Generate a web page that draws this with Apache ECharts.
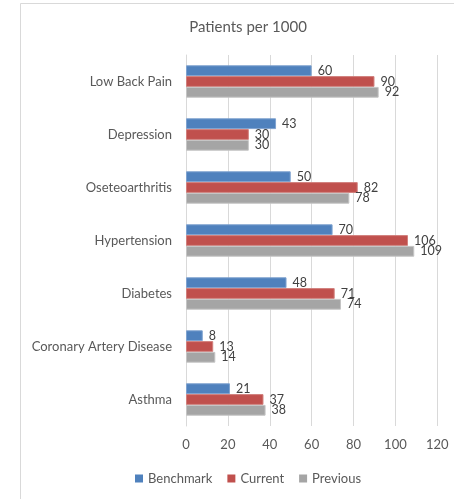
<!DOCTYPE html>
<html>
<head>
<meta charset="utf-8">
<script src="https://cdn.jsdelivr.net/npm/echarts@6/dist/echarts.min.js"></script>
<style>
  html, body { margin: 0; padding: 0; background: #fff; }
  #chart { width: 454px; height: 499px; }
</style>
</head>
<body>
<div id="chart"></div>
<script>
// Conditions, listed top to bottom
const categories = ['Low Back Pain', 'Depression', 'Oseteoarthritis', 'Hypertension', 'Diabetes', 'Coronary Artery Disease', 'Asthma'];
const benchmark = [60, 43, 50, 70, 48, 8, 21];
const current = [90, 30, 82, 106, 71, 13, 37];
const previous = [92, 30, 78, 109, 74, 14, 38];
const xTicks = [0, 20, 40, 60, 80, 100, 120];

const FONT = 'Lato, "Noto Sans", sans-serif';
const chart = echarts.init(document.getElementById('chart'), null, { renderer: 'canvas' });

function barSeries(name, values, color, border) {
  return {
    name: name,
    type: 'bar',
    data: values,
    barWidth: 10.8,
    barGap: '0%',
    itemStyle: { color: color, borderColor: border, borderWidth: 1 },
    label: {
      show: true,
      position: 'right',
      distance: 6,
      color: '#404040',
      fontFamily: FONT,
      fontSize: 12.5
    }
  };
}

chart.setOption({
  animation: false,
  backgroundColor: '#fff',
  graphic: [{
    type: 'rect',
    shape: { x: 20.5, y: 3.5, width: 460, height: 520 },
    style: { fill: 'none', stroke: '#d9d9d9', lineWidth: 1 },
    z: -1
  }],
  title: {
    text: 'Patients per 1000',
    left: 243,
    textAlign: 'center',
    top: 15,
    textStyle: { color: '#595959', fontFamily: FONT, fontSize: 15, fontWeight: 'normal' }
  },
  legend: {
    data: ['Benchmark', 'Current', 'Previous'],
    top: 467,
    left: 130,
    icon: 'rect',
    itemWidth: 8,
    itemHeight: 8,
    itemGap: 15,
    itemStyle: { borderWidth: 0 },
    textStyle: { color: '#595959', fontFamily: FONT, fontSize: 13 }
  },
  grid: { left: 186, right: 16.7, top: 55, bottom: 73, containLabel: false },
  xAxis: {
    type: 'value',
    min: xTicks[0],
    max: xTicks[xTicks.length - 1],
    interval: xTicks[1] - xTicks[0],
    axisLine: { show: false },
    axisTick: { show: false },
    splitLine: { lineStyle: { color: '#d9d9d9', width: 1 } },
    axisLabel: { color: '#595959', fontFamily: FONT, fontSize: 13, margin: 12 }
  },
  yAxis: {
    type: 'category',
    data: categories,
    inverse: true,
    axisLine: { show: true, lineStyle: { color: '#d9d9d9' } },
    axisTick: { show: false },
    axisLabel: { color: '#595959', fontFamily: FONT, fontSize: 13, margin: 14 }
  },
  series: [
    barSeries('Benchmark', benchmark, '#4f81bd', '#7ea2cf'),
    barSeries('Current', current, '#c0504d', '#d17f7c'),
    barSeries('Previous', previous, '#a5a5a5', '#c4c4c4')
  ]
});
</script>
</body>
</html>
